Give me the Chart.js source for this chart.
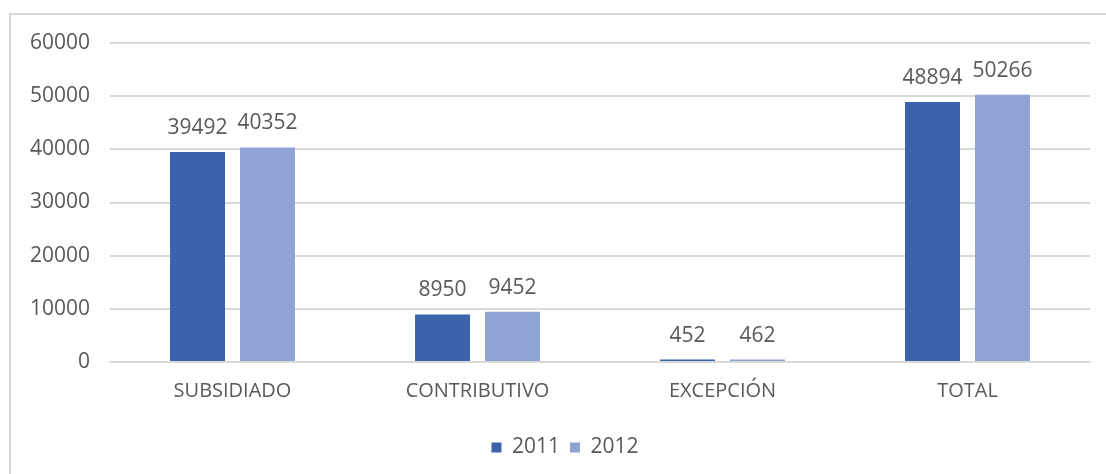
<!DOCTYPE html>
<html>
<head>
<meta charset="utf-8">
<script src="https://cdn.jsdelivr.net/npm/chart.js@4"></script>
<style>
  html,body{margin:0;padding:0;background:#fff;}
  #wrap{position:relative;width:1106px;height:474px;}
  #frame{position:absolute;left:9px;top:13px;width:1120px;height:480px;border-top:2px solid #D9D9D9;border-left:2px solid #D9D9D9;box-sizing:border-box;}
  canvas{position:absolute;left:0;top:0;}
</style>
</head>
<body>
<div id="wrap">
  <div id="frame"></div>
  <canvas id="chart" width="1106" height="474"></canvas>
</div>
<script>
// ============ DATA ============
const categories = ['SUBSIDIADO', 'CONTRIBUTIVO', 'EXCEPCIÓN', 'TOTAL'];
const values2011 = [39492, 8950, 452, 48894];
const values2012 = [40352, 9452, 462, 50266];
const yTicks = [0, 10000, 20000, 30000, 40000, 50000, 60000];

const FONT = "'Open Sans', 'Noto Sans', sans-serif";
const TEXT = '#595959';

// value labels above each bar
const barLabels = {
  id: 'barLabels',
  afterDatasetsDraw(chart) {
    const ctx = chart.ctx;
    ctx.save();
    ctx.font = '21px ' + FONT;
    ctx.fillStyle = TEXT;
    ctx.textAlign = 'center';
    ctx.textBaseline = 'alphabetic';
    chart.data.datasets.forEach((ds, i) => {
      chart.getDatasetMeta(i).data.forEach((bar, j) => {
        ctx.fillText(ds.data[j], bar.x, bar.y - 18);
      });
    });
    ctx.restore();
  }
};

// legend sits a little right of the canvas centre in the original
const legendShift = {
  id: 'legendShift',
  afterLayout(chart) {
    chart.legend.left += 20;
    chart.legend.right += 20;
  }
};

new Chart(document.getElementById('chart'), {
  type: 'bar',
  data: {
    labels: categories,
    datasets: [
      { label: '2011', data: values2011, backgroundColor: '#3B63AC', categoryPercentage: 0.571, barPercentage: 0.786 },
      { label: '2012', data: values2012, backgroundColor: '#8FA4D4', categoryPercentage: 0.571, barPercentage: 0.786 }
    ]
  },
  options: {
    responsive: false,
    animation: false,
    layout: { padding: { top: 43, right: 16, left: 0, bottom: 6 } },
    plugins: {
      legend: {
        position: 'bottom',
        labels: { color: TEXT, font: { family: FONT, size: 21 }, boxWidth: 10, boxHeight: 10, padding: 10 }
      },
      tooltip: { enabled: false }
    },
    scales: {
      x: {
        grid: { display: false, drawTicks: false },
        border: { color: '#D9D9D9', width: 2 },
        ticks: { color: TEXT, font: { family: FONT, size: 20 }, padding: 17 },
        afterFit: s => { s.height = 65; }
      },
      y: {
        min: 0, max: 60000,
        afterBuildTicks: s => { s.ticks = yTicks.map(v => ({ value: v })); },
        grid: { color: '#D9D9D9', lineWidth: 2, drawTicks: false },
        border: { display: false },
        ticks: { color: TEXT, font: { family: FONT, size: 21 }, padding: 20, callback: v => String(v) },
        afterFit: s => { s.width = 110; }
      }
    }
  },
  plugins: [barLabels, legendShift]
});
</script>
</body>
</html>
